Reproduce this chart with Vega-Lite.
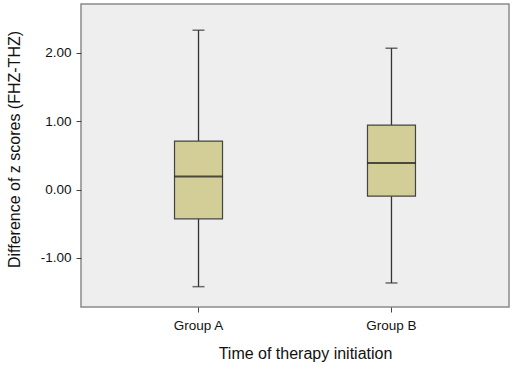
{
  "$schema": "https://vega.github.io/schema/vega-lite/v6.json",
  "width": 428,
  "height": 303,
  "autosize": {"type": "none"},
  "padding": {"left": 81, "top": 4, "right": 6, "bottom": 68},
  "background": "white",
  "config": {
    "font": "Liberation Sans",
    "view": {"fill": "#eeeeee", "stroke": "#8a8a8a", "strokeWidth": 1.5},
    "axis": {"grid": false, "domain": false, "tickColor": "#444", "labelColor": "#111", "titleColor": "#111", "titleFontWeight": "normal"}
  },
  "data": {
    "values": [
      {"group": "Group A", "min": -1.419, "q1": -0.428, "median": 0.19, "q3": 0.708, "max": 2.327},
      {"group": "Group B", "min": -1.365, "q1": -0.097, "median": 0.386, "q3": 0.942, "max": 2.064}
    ]
  },
  "encoding": {
    "x": {
      "field": "group", "type": "nominal",
      "scale": {"paddingInner": 0, "paddingOuter": 0.109},
      "axis": {"title": "Time of therapy initiation", "labelAngle": 0, "labelFontSize": 13.5, "titleFontSize": 16, "tickSize": 5, "labelPadding": 6, "titlePadding": 14, "titleX": 224}
    }
  },
  "layer": [
    {
      "mark": {"type": "rule", "color": "#333", "strokeWidth": 1.3},
      "encoding": {
        "y": {"field": "min", "type": "quantitative", "scale": {"domain": [-1.716, 2.71], "nice": false, "zero": false},
          "axis": {"title": "Difference of z scores (FHZ-THZ)", "values": [-1, 0, 1, 2], "format": ".2f", "labelExpr": "replace(datum.label, '\u2212', '-')", "labelFontSize": 13.5, "titleFontSize": 16, "tickSize": 5, "labelPadding": 5, "titlePadding": 18, "titleY": 145}},
        "y2": {"field": "max"}
      }
    },
    {
      "mark": {"type": "bar", "size": 48, "color": "#d3ce98", "stroke": "#444", "strokeWidth": 1.2},
      "encoding": {
        "y": {"field": "q1", "type": "quantitative"},
        "y2": {"field": "q3"}
      }
    },
    {
      "mark": {"type": "tick", "color": "#111", "size": 48, "thickness": 2},
      "encoding": {"y": {"field": "median", "type": "quantitative"}}
    },
    {
      "mark": {"type": "tick", "color": "#333", "size": 12, "thickness": 1.5},
      "encoding": {"y": {"field": "max", "type": "quantitative"}}
    },
    {
      "mark": {"type": "tick", "color": "#333", "size": 12, "thickness": 1.5},
      "encoding": {"y": {"field": "min", "type": "quantitative"}}
    }
  ]
}
